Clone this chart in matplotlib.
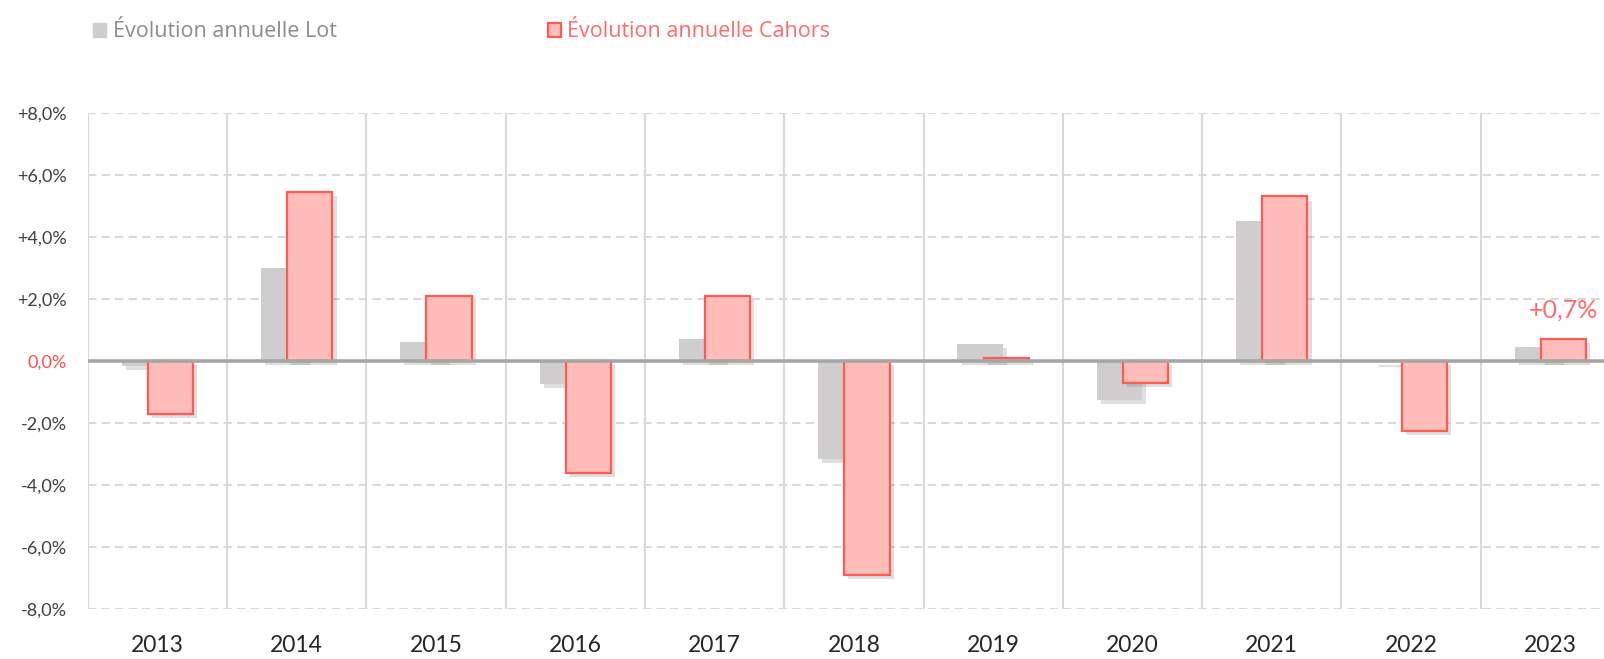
import matplotlib
matplotlib.use('Agg')
import matplotlib.pyplot as plt
import matplotlib.patheffects as pe
from matplotlib.patches import Patch
import numpy as np

# ----------------- Data -----------------
years = ["2013", "2014", "2015", "2016", "2017", "2018", "2019", "2020", "2021", "2022", "2023"]
evol_lot = [-0.15, 3.0, 0.6, -0.75, 0.7, -3.15, 0.55, -1.25, 4.5, -0.05, 0.45]
evol_cahors = [-1.7, 5.45, 2.1, -3.6, 2.1, -6.9, 0.1, -0.7, 5.3, -2.25, 0.7]
y_ticks = [-8, -6, -4, -2, 0, 2, 4, 6, 8]
last_label = "+0,7%"

# ----------------- Style -----------------
GREY = "#CFCDCE"
PINK = "#FFBCB9"
PINK_EDGE = "#FF5B52"
RED_TXT = "#FF6B6B"
GRID = "#D9D9D9"
ZERO = "#A6A6A6"
TICK_FONT = "Lato"
LEG_FONT = "Open Sans"

fig = plt.figure(figsize=(16.04, 6.59), dpi=100)
ax = fig.add_axes([87.7 / 1604, 1 - 609 / 659, (1620 - 87.7) / 1604, (609 - 112.7) / 659])

x = np.arange(len(years))
w = 0.325
off = 0.094

shadow = [pe.SimplePatchShadow(offset=(3, -3), shadow_rgbFace="#707070", alpha=0.22), pe.Normal()]

ax.bar(x - off, evol_lot, width=w, color=GREY, edgecolor="none", zorder=3,
       path_effects=shadow, label="Évolution annuelle Lot")
ax.bar(x + off, evol_cahors, width=w, color=PINK, edgecolor=PINK_EDGE, linewidth=1.6, zorder=4,
       path_effects=shadow, label="Évolution annuelle Cahors")

# label on last bar
ax.text(x[-1] + off, evol_cahors[-1] + 0.55, last_label, ha="center", va="bottom",
        fontsize=18, color=RED_TXT, family=TICK_FONT, zorder=6)

ax.set_xlim(-0.5, len(years) - 0.5)
ax.set_ylim(-8, 8)

# grid
for yv in y_ticks:
    if yv != 0:
        ax.axhline(yv, color=GRID, linewidth=1.5, linestyle=(0, (4, 2.5)), zorder=1)
for xv in np.arange(-0.5, len(years), 1.0):
    ax.axvline(xv, color=GRID, linewidth=1.5, zorder=1)
ax.axhline(0, color=ZERO, linewidth=2.6, zorder=5)

for s in ax.spines.values():
    s.set_visible(False)

ax.set_yticks(y_ticks)
ax.set_yticklabels([("+" if v > 0 else "") + f"{v:.1f}".replace(".", ",") + "%" for v in y_ticks])
ax.set_xticks(x)
ax.set_xticklabels(years)
ax.tick_params(axis="y", length=0, pad=15, labelsize=13, labelcolor="#404040")
ax.tick_params(axis="x", length=0, pad=19, labelsize=16.5, labelcolor="#262626")
for lbl in ax.get_yticklabels() + ax.get_xticklabels():
    lbl.set_family(TICK_FONT)
for lbl, v in zip(ax.get_yticklabels(), y_ticks):
    if v == 0:
        lbl.set_color("#FF4B4B")

# legend
handles = [Patch(facecolor=GREY, edgecolor=GREY),
           Patch(facecolor=PINK, edgecolor=PINK_EDGE, linewidth=1.6)]
leg = fig.legend(handles, ["Évolution annuelle Lot", "Évolution annuelle Cahors"],
                 loc="upper left", bbox_to_anchor=(74 / 1604, 1 - 2 / 659), ncol=2,
                 frameon=False, prop={"family": LEG_FONT, "size": 15.5},
                 handlelength=0.6, handleheight=0.6, handletextpad=0.3, columnspacing=9.8)
leg.get_texts()[0].set_color("#8C8C8C")
leg.get_texts()[1].set_color(RED_TXT)

fig.savefig("out.png", dpi=100)
